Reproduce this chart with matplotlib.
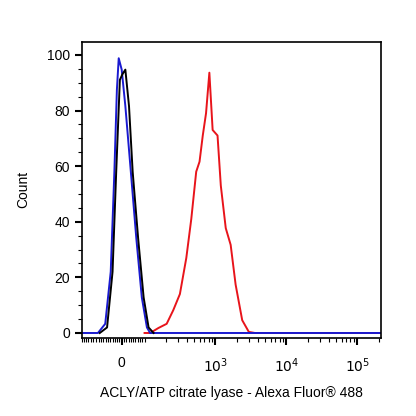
import numpy as np
import matplotlib
matplotlib.use("Agg")
import matplotlib.pyplot as plt

plt.rcParams['font.family'] = ['Liberation Sans', 'DejaVu Sans']

# histogram traces (fluorescence, % of max)
blue_x = [-173, -103, -72, -48, -32, -21, -13, 0, 16, 40, 64, 88, 108, 120, 216000]
blue_y = [0, 0, 3.3, 22, 58, 87.5, 98.8, 94.7, 81.6, 58, 34, 12.8, 2, 0, 0]
black_x = [-96, -64, -40, -24, -8, 3, 16, 32, 48, 72, 96, 114, 134]
black_y = [0, 2, 22, 58, 91, 93, 94.7, 81.6, 58, 34, 12.8, 2, 0]
red_x = [100, 120, 157, 205, 254, 315, 388, 456, 535, 596, 662, 736, 820, 912,
         1069, 1189, 1396, 1637, 1923, 2382, 2951, 3606, 216000]
red_y = [0, 0, 1.8, 3.3, 8.2, 14, 27, 41, 58, 61.6, 71, 79, 93.6, 73,
         71, 53, 37.7, 31.7, 17.4, 4.6, 0.4, 0, 0]

fig = plt.figure(figsize=(4.16, 4.16), dpi=100)
ax = fig.add_axes([0.197, 0.1875, 0.719, 0.712])

ax.plot(red_x, red_y, color='#e8141b', lw=1.4)
ax.plot(blue_x, blue_y, color='#1a1ad0', lw=1.4)
ax.plot(black_x, black_y, color='black', lw=1.4)

ax.set_xscale('symlog', linthresh=100, linscale=0.29)
ax.set_xlim(-173, 216000)
ax.set_ylim(-1.8, 104.7)

ax.set_xticks([0, 1e3, 1e4, 1e5])
ax.set_xticklabels(['0', r'$10^3$', r'$10^4$', r'$10^5$'])
minors = list(range(-170, 101, 10))
for dec in [100, 1000, 10000, 100000]:
    minors += [dec * k for k in range(2, 10) if dec * k < 216000]
ax.set_xticks(minors, minor=True)
ax.set_yticks(range(0, 101, 20))
ax.set_yticks(range(0, 101, 5), minor=True)

ax.tick_params(which='major', direction='out', length=5, width=1.5, labelsize=10)
ax.tick_params(which='minor', direction='out', length=3, width=0.8)
ax.tick_params(axis='x', pad=8)
for s in ax.spines.values():
    s.set_linewidth(1.2)

ax.set_ylabel('Count', fontsize=10, labelpad=12)
ax.set_xlabel('ACLY/ATP citrate lyase - Alexa Fluor® 488', fontsize=10, labelpad=8)

fig.savefig('out.png', dpi=100)
